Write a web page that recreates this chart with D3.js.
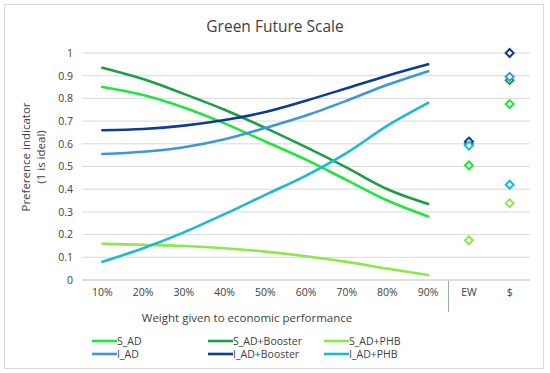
<!DOCTYPE html>
<html>
<head>
<meta charset="utf-8">
<script src="https://cdn.jsdelivr.net/npm/d3@7"></script>
<style>
  body { margin: 0; background: #fff; }
  text { font-family: "Open Sans", sans-serif; fill: #404040; }
</style>
</head>
<body>
<svg id="canvas" width="550" height="373"></svg>
<script>
// categories on the x axis
let weights = ['10%', '20%', '30%', '40%', '50%', '60%', '70%', '80%', '90%']
let extras = ['EW', '$']
let categories = weights.concat(extras)

let seriesNames = ['S_AD', 'S_AD+Booster', 'S_AD+PHB', 'I_AD', 'I_AD+Booster', 'I_AD+PHB']
let seriesColors = ['#1ee63c', '#1e9e44', '#8ee84a', '#3d97d8', '#0c3d8e', '#1cbad0']

// line values per weight
let sAD        = [0.85, 0.815, 0.76, 0.69, 0.61, 0.53, 0.44, 0.35, 0.28]
let sADBooster = [0.935, 0.885, 0.82, 0.75, 0.67, 0.585, 0.495, 0.40, 0.335]
let sADPHB     = [0.16, 0.155, 0.15, 0.14, 0.125, 0.105, 0.08, 0.05, 0.022]
let iAD        = [0.555, 0.565, 0.585, 0.62, 0.67, 0.725, 0.79, 0.86, 0.92]
let iADBooster = [0.66, 0.665, 0.68, 0.705, 0.74, 0.79, 0.845, 0.90, 0.95]
let iADPHB     = [0.08, 0.14, 0.21, 0.29, 0.375, 0.46, 0.56, 0.68, 0.78]

// single points for EW and $
let ewValues     = [0.505, 0.60, 0.175, 0.595, 0.61, 0.592]
let dollarValues = [0.775, 0.88, 0.338, 0.895, 1.0, 0.42]

let yTicks = [0, 0.1, 0.2, 0.3, 0.4, 0.5, 0.6, 0.7, 0.8, 0.9, 1]

let lineData = [sAD, sADBooster, sADPHB, iAD, iADBooster, iADPHB]

let canvas = d3.select('#canvas')

// chart frame
canvas.append('rect')
    .attr('x', 4.5).attr('y', 4.5)
    .attr('width', 539).attr('height', 364)
    .attr('fill', 'white')
    .attr('stroke', '#d9d9d9')

let x = d3.scaleBand().domain(categories).range([82, 530])
let y = d3.scaleLinear().domain([0, 1]).range([280, 53])

// gridlines
canvas.append('g')
    .selectAll('line')
    .data(yTicks)
    .enter()
    .append('line')
    .attr('x1', 82).attr('x2', 530)
    .attr('y1', d => y(d)).attr('y2', d => y(d))
    .attr('stroke', (d) => d == 0 ? '#bfbfbf' : '#d9d9d9')
    .attr('stroke-width', 1)

// y axis labels
let yAxis = d3.axisLeft(y).tickValues(yTicks).tickSize(0).tickPadding(0)
    .tickFormat(d => d3.format('~g')(d))
let yG = canvas.append('g').attr('transform', 'translate(73,0)').call(yAxis)
yG.select('.domain').remove()
yG.selectAll('text').style('font-size', '10.5px').attr('fill', '#404040').attr('font-family', '"Open Sans", sans-serif')

// x axis labels
let xAxis = d3.axisBottom(x).tickSize(0).tickPadding(0)
let xG = canvas.append('g').attr('transform', 'translate(0,289)').call(xAxis)
xG.select('.domain').remove()
xG.selectAll('text').style('font-size', '10.5px').attr('fill', '#404040').attr('font-family', '"Open Sans", sans-serif')

// divider between the weights and EW
canvas.append('line')
    .attr('x1', x('EW')).attr('x2', x('EW'))
    .attr('y1', 281).attr('y2', 312)
    .attr('stroke', '#a6a6a6')

// smoothed lines
let line = d3.line()
    .x((d, i) => x(weights[i]) + x.bandwidth() / 2)
    .y(d => y(d))
    .curve(d3.curveCatmullRom.alpha(0.5))

canvas.append('g')
    .selectAll('path')
    .data(lineData)
    .enter()
    .append('path')
    .attr('d', line)
    .attr('fill', 'none')
    .attr('stroke', (d, i) => seriesColors[i])
    .attr('stroke-width', 2.6)
    .attr('stroke-linecap', 'round')

// diamond markers for EW and $
let diamond = d3.symbol().type(d3.symbolDiamond2).size(40)
let points = []
seriesNames.forEach((name, i) => {
    points.push({ cat: 'EW', v: ewValues[i], c: seriesColors[i] })
    points.push({ cat: '$', v: dollarValues[i], c: seriesColors[i] })
})
canvas.append('g')
    .selectAll('path')
    .data(points)
    .enter()
    .append('path')
    .attr('d', diamond)
    .attr('transform', d => 'translate(' + (x(d.cat) + x.bandwidth() / 2) + ',' + y(d.v) + ')')
    .attr('fill', 'white')
    .attr('stroke', d => d.c)
    .attr('stroke-width', 2)

// title
canvas.append('text')
    .attr('x', 275).attr('y', 32)
    .attr('text-anchor', 'middle')
    .style('font-size', '15.5px')
    .attr('fill', '#262626')
    .text('Green Future Scale')

// y axis title
let yTitle = canvas.append('text')
    .attr('transform', 'translate(30,157) rotate(-90)')
    .attr('text-anchor', 'middle')
    .style('font-size', '11.5px')
yTitle.append('tspan').attr('x', 0).attr('dy', 0).text('Preference indicator')
yTitle.append('tspan').attr('x', 0).attr('dy', 15).text('(1 is ideal)')

// x axis title
canvas.append('text')
    .attr('x', 247).attr('y', 322)
    .attr('text-anchor', 'middle')
    .style('font-size', '11.5px')
    .text('Weight given to economic performance')

// legend, three columns by two rows
let legendX = [92, 208, 324]
let legendY = [341, 354]
let legend = canvas.append('g')
    .selectAll('g')
    .data(seriesNames)
    .enter()
    .append('g')
    .attr('transform', (d, i) => 'translate(' + legendX[i % 3] + ',' + legendY[Math.floor(i / 3)] + ')')
legend.append('line')
    .attr('x1', 0).attr('x2', 25)
    .attr('stroke', (d, i) => seriesColors[i])
    .attr('stroke-width', 2.6)
legend.append('text')
    .attr('x', 25).attr('y', 4)
    .style('font-size', '10.5px')
    .text(d => d)
</script>
</body>
</html>
